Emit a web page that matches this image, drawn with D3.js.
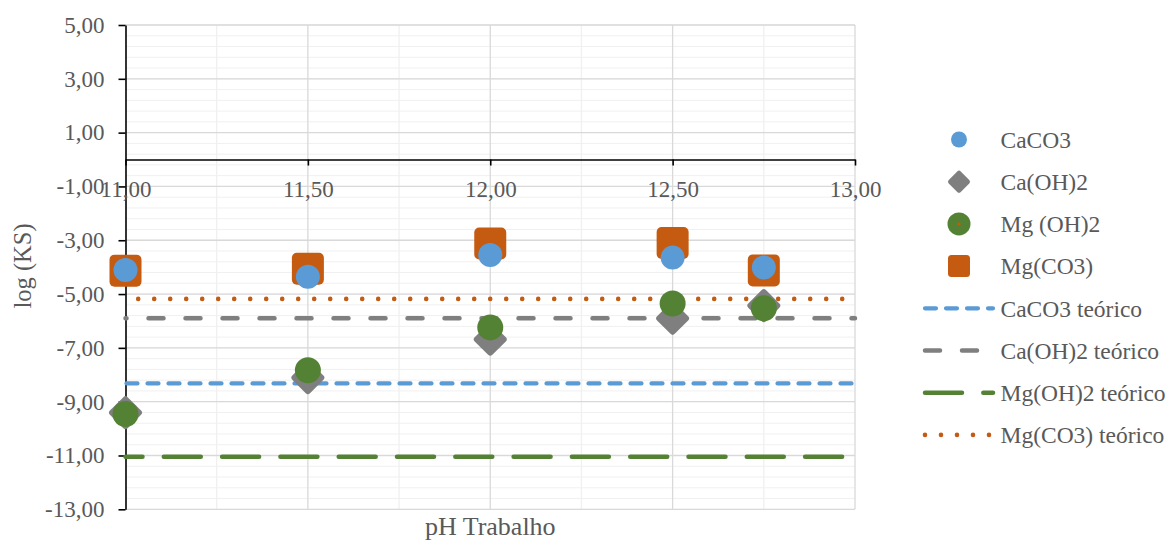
<!DOCTYPE html>
<html>
<head>
<meta charset="utf-8">
<script src="https://cdn.jsdelivr.net/npm/d3@7"></script>
<style>
  body { margin: 0; background: #fff; }
</style>
</head>
<body>
<div id="container"></div>
<script>
// pH values and log(Ks) readings
var ph = [11.00, 11.50, 12.00, 12.50, 12.75]
var caco3 = [-4.11, -4.36, -3.55, -3.64, -4.01]
var caoh2 = [-9.41, -8.11, -6.68, -5.90, -5.43]
var mgoh2 = [-9.46, -7.83, -6.24, -5.35, -5.53]
var mgco3 = [-4.13, -4.06, -3.12, -3.10, -4.12]

// theoretical lines (constant across pH range)
var theoryX = [11.00, 13.00]
var caco3Teo = [-8.32, -8.32]
var caoh2Teo = [-5.90, -5.90]
var mgoh2Teo = [-11.05, -11.05]
var mgco3Teo = [-5.18, -5.18]

var xTicks = [11.00, 11.50, 12.00, 12.50, 13.00]
var yTicks = [5, 3, 1, -1, -3, -5, -7, -9, -11, -13]

var FONT = "'Liberation Serif'"
var TXT = "#595959"

var width = 1170, height = 542
var svg = d3.select("#container").append("svg")
  .attr("width", width)
  .attr("height", height)

var x = d3.scaleLinear().domain([11, 13]).range([125.5, 855])
var y = d3.scaleLinear().domain([5, -13]).range([25, 509.3])

// comma decimals, plain hyphen for the minus sign
var comma = function (d) { return d3.format(".2f")(d).replace(".", ",").replace("\u2212", "-") }

// gridlines
var grid = svg.append("g")
grid.selectAll(".hminor").data(d3.range(0, 46).map(function (i) { return 5 - i * 0.4 }))
  .enter().append("line")
  .attr("x1", x(11)).attr("x2", x(13))
  .attr("y1", d => y(d)).attr("y2", d => y(d))
  .attr("stroke", "#f0f0f0").attr("stroke-width", 1)
grid.selectAll(".vminor").data([11.25, 11.75, 12.25, 12.75])
  .enter().append("line")
  .attr("x1", d => x(d)).attr("x2", d => x(d))
  .attr("y1", y(5)).attr("y2", y(-13))
  .attr("stroke", "#f0f0f0").attr("stroke-width", 1.3)
grid.selectAll(".hmajor").data(yTicks)
  .enter().append("line")
  .attr("x1", x(11)).attr("x2", x(13))
  .attr("y1", d => y(d)).attr("y2", d => y(d))
  .attr("stroke", "#d9d9d9").attr("stroke-width", 1.3)
grid.selectAll(".vmajor").data([11.5, 12, 12.5, 13])
  .enter().append("line")
  .attr("x1", d => x(d)).attr("x2", d => x(d))
  .attr("y1", y(5)).attr("y2", y(-13))
  .attr("stroke", "#d9d9d9").attr("stroke-width", 1.3)

// axes
var yAxis = svg.append("g")
  .attr("transform", "translate(" + x(11) + ",0)")
  .call(d3.axisLeft(y).tickValues(yTicks).tickFormat(comma).tickSize(7).tickSizeOuter(0).tickPadding(14))
var xAxis = svg.append("g")
  .attr("transform", "translate(0," + y(0) + ")")
  .call(d3.axisBottom(x).tickValues(xTicks).tickFormat(comma).tickSize(6).tickSizeOuter(0).tickPadding(15))
;[yAxis, xAxis].forEach(function (a) {
  a.attr("font-family", null).attr("font-size", null)
  a.selectAll("path, line").attr("stroke", "#000").attr("stroke-width", 1.6)
  a.selectAll("text")
    .attr("fill", TXT)
    .style("font-family", FONT)
    .style("font-size", "23px")
})

// theoretical lines
var line = d3.line().x(d => x(d[0])).y(d => y(d[1]))
var theory = [
  { name: "CaCO3 teórico", vals: caco3Teo, color: "#5b9bd5", dash: "11 10", off: 20, w: 4.2 },
  { name: "Ca(OH)2 teórico", vals: caoh2Teo, color: "#7f7f7f", dash: "15 22", off: 14, w: 4.5 },
  { name: "Mg(OH)2 teórico", vals: mgoh2Teo, color: "#548235", dash: "37 21.3", off: 20, w: 4.5 },
  { name: "Mg(CO3) teórico", vals: mgco3Teo, color: "#c55a11", dash: "0 16", off: 3.3, w: 4.6 }
]
svg.append("g").selectAll("path").data(theory).enter().append("path")
  .attr("d", d => line(d3.zip(theoryX, d.vals)))
  .attr("fill", "none")
  .attr("stroke", d => d.color)
  .attr("stroke-width", d => d.w)
  .attr("stroke-linecap", "round")
  .attr("stroke-dasharray", d => d.dash)
  .attr("stroke-dashoffset", d => d.off)

// markers
var pts = function (vals) { return d3.zip(ph, vals) }
var marks = svg.append("g")
marks.selectAll(".sq").data(pts(mgco3)).enter().append("rect")
  .attr("x", d => x(d[0]) - 16).attr("y", d => y(d[1]) - 16)
  .attr("width", 32).attr("height", 32).attr("rx", 5)
  .attr("fill", "#c55a11")
marks.selectAll(".dia").data(pts(caoh2)).enter().append("rect")
  .attr("x", -12.5).attr("y", -12.5).attr("width", 25).attr("height", 25).attr("rx", 3)
  .attr("transform", d => "translate(" + x(d[0]) + "," + y(d[1]) + ") rotate(45)")
  .attr("fill", "#7f7f7f")
marks.selectAll(".gc").data(pts(mgoh2)).enter().append("circle")
  .attr("cx", d => x(d[0])).attr("cy", d => y(d[1])).attr("r", 13)
  .attr("fill", "#548235")
marks.selectAll(".bc").data(pts(caco3)).enter().append("circle")
  .attr("cx", d => x(d[0])).attr("cy", d => y(d[1])).attr("r", 12)
  .attr("fill", "#5b9bd5")

// axis titles
svg.append("text")
  .attr("transform", "translate(31,266) rotate(-90)")
  .attr("text-anchor", "middle")
  .attr("fill", TXT)
  .style("font-family", FONT)
  .style("font-size", "24.5px")
  .text("log (KS)")
svg.append("text")
  .attr("x", (x(11) + x(13)) / 2).attr("y", 535)
  .attr("text-anchor", "middle")
  .attr("fill", TXT)
  .style("font-family", FONT)
  .style("font-size", "26px")
  .text("pH Trabalho")

// legend
var legend = svg.append("g")
var rowY = function (i) { return 139.5 + i * 42.2 }
var lx = 959
var l0 = legend.append("g").attr("transform", "translate(" + lx + "," + rowY(0) + ")")
l0.append("circle").attr("r", 8).attr("fill", "#5b9bd5")
var l1 = legend.append("g").attr("transform", "translate(" + lx + "," + rowY(1) + ") rotate(45)")
l1.append("rect").attr("x", -8.5).attr("y", -8.5).attr("width", 17).attr("height", 17).attr("rx", 2.5).attr("fill", "#7f7f7f")
var l2 = legend.append("g").attr("transform", "translate(" + lx + "," + rowY(2) + ")")
l2.append("circle").attr("r", 11.5).attr("fill", "#548235")
l2.append("circle").attr("r", 1.6).attr("fill", "#c55a11")
var l3 = legend.append("g").attr("transform", "translate(" + lx + "," + rowY(3) + ")")
l3.append("rect").attr("x", -11).attr("y", -11).attr("width", 22).attr("height", 22).attr("rx", 3.5).attr("fill", "#c55a11")

theory.forEach(function (t, i) {
  legend.append("line")
    .attr("x1", 925).attr("x2", 993)
    .attr("y1", rowY(4 + i)).attr("y2", rowY(4 + i))
    .attr("stroke", t.color).attr("stroke-width", t.w)
    .attr("stroke-linecap", "round")
    .attr("stroke-dasharray", t.dash)
})

var names = ["CaCO3", "Ca(OH)2", "Mg (OH)2", "Mg(CO3)"].concat(theory.map(t => t.name))
legend.selectAll(".lt").data(names).enter().append("text")
  .attr("x", 1000.5).attr("y", (d, i) => rowY(i))
  .attr("dy", "0.35em")
  .attr("fill", TXT)
  .style("font-family", FONT)
  .style("font-size", "23.5px")
  .text(d => d)
</script>
</body>
</html>
